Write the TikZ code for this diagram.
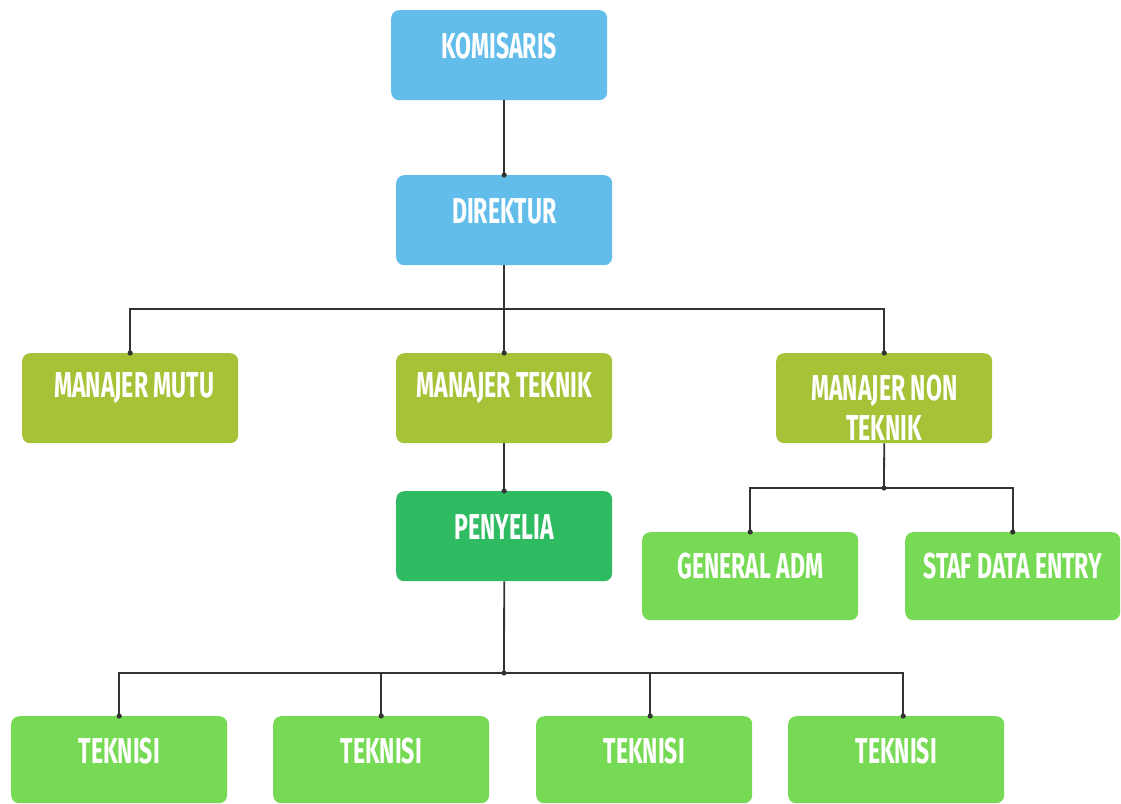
\documentclass[tikz,border=0pt]{standalone}
\usepackage{fontspec}
\newfontfamily\labfont[FakeStretch=0.64]{Fira Sans}
\definecolor{boxblue}{HTML}{62BDEA}
\definecolor{boxolive}{HTML}{A6C338}
\definecolor{boxdark}{HTML}{2EBB62}
\definecolor{boxgreen}{HTML}{77DA55}
\definecolor{linec}{HTML}{333333}
\begin{document}
\begin{tikzpicture}[x=1pt,y=-1pt,
  box/.style={rectangle, rounded corners=8pt, anchor=north west, minimum width=216pt, minimum height=90pt, inner sep=0pt, draw=none},
  txt/.style={text=white, font=\labfont\bfseries\fontsize{36}{40}\selectfont, align=center, inner sep=0pt},
  conn/.style={draw=linec, line width=1.8pt},
  dotc/.style={fill=linec}]
\useasboundingbox (0,0) rectangle (1121,803);
\fill[white] (0,0) rectangle (1121,803);
% boxes
\node[box, fill=boxblue] (kom) at (391,10) {};
\node[box, fill=boxblue] (dir) at (396,175) {};
\node[box, fill=boxolive] (mm) at (22,353) {};
\node[box, fill=boxolive] (mt) at (396,353) {};
\node[box, fill=boxolive] (mnt) at (776,353) {};
\node[box, fill=boxdark] (pen) at (396,491) {};
\node[box, fill=boxgreen, minimum height=88pt] (ga) at (642,532) {};
\node[box, fill=boxgreen, minimum height=88pt, minimum width=215pt] (sde) at (905,532) {};
\node[box, fill=boxgreen, minimum height=87pt] (t1) at (11,716) {};
\node[box, fill=boxgreen, minimum height=87pt] (t2) at (273,716) {};
\node[box, fill=boxgreen, minimum height=87pt] (t3) at (536,716) {};
\node[box, fill=boxgreen, minimum height=87pt] (t4) at (788,716) {};
% texts
\node[txt] (komt) at ([yshift=9pt]kom.center) {KOMISARIS};
\node[txt] (dirt) at ([yshift=9pt]dir.center) {DIREKTUR};
\node[txt] (mmt) at ([yshift=10pt,xshift=4pt]mm.center) {MANAJER MUTU};
\node[txt] (mtt) at ([yshift=10pt]mt.center) {MANAJER TEKNIK};
\node[txt] (mntt) at ([yshift=-9.5pt]mnt.center) {MANAJER NON\\TEKNIK};
\node[txt] (pent) at ([yshift=9pt]pen.center) {PENYELIA};
\node[txt] (gat) at ([yshift=10pt]ga.center) {GENERAL ADM};
\node[txt] (sdet) at ([yshift=10pt]sde.center) {STAF DATA ENTRY};
\node[txt] (t1t) at ([yshift=9pt]t1.center) {TEKNISI};
\node[txt] (t2t) at ([yshift=9pt]t2.center) {TEKNISI};
\node[txt] (t3t) at ([yshift=9pt]t3.center) {TEKNISI};
\node[txt] (t4t) at ([yshift=9pt]t4.center) {TEKNISI};
% junctions
\coordinate (j1) at (504,309);
\coordinate (j2) at (504,673);
\coordinate (j3) at (884,488);
% connectors
\draw[conn] (kom.south -| dir.north) -- (dir.north);
\draw[conn] (dir.south) -- (mt.north);
\draw[conn] (mm.north) |- (j1) -| (mnt.north);
\draw[conn] (mt.south) -- (pen.north);
\draw[conn] (mnt.south) -- (j3);
\draw[conn] (ga.north) |- (j3) -| (sde.north);
\draw[conn] (pen.south) -- (j2);
\draw[conn] (t1.north) |- (j2) -| ([xshift=7pt]t4.north);
\draw[conn] (t2.north) -- (t2.north |- j2);
\draw[conn] ([xshift=6pt]t3.north) -- ([xshift=6pt]t3.north |- j2);
% dots
\foreach \p in {dir.north, mm.north, mt.north, mnt.north, pen.north, ga.north, sde.north, t1.north, t2.north, j2, j3}
  \fill[dotc] (\p) circle (2.6pt);
\fill[dotc] ([xshift=6pt]t3.north) circle (2.6pt);
\fill[dotc] ([xshift=7pt]t4.north) circle (2.6pt);
\end{tikzpicture}
\end{document}
